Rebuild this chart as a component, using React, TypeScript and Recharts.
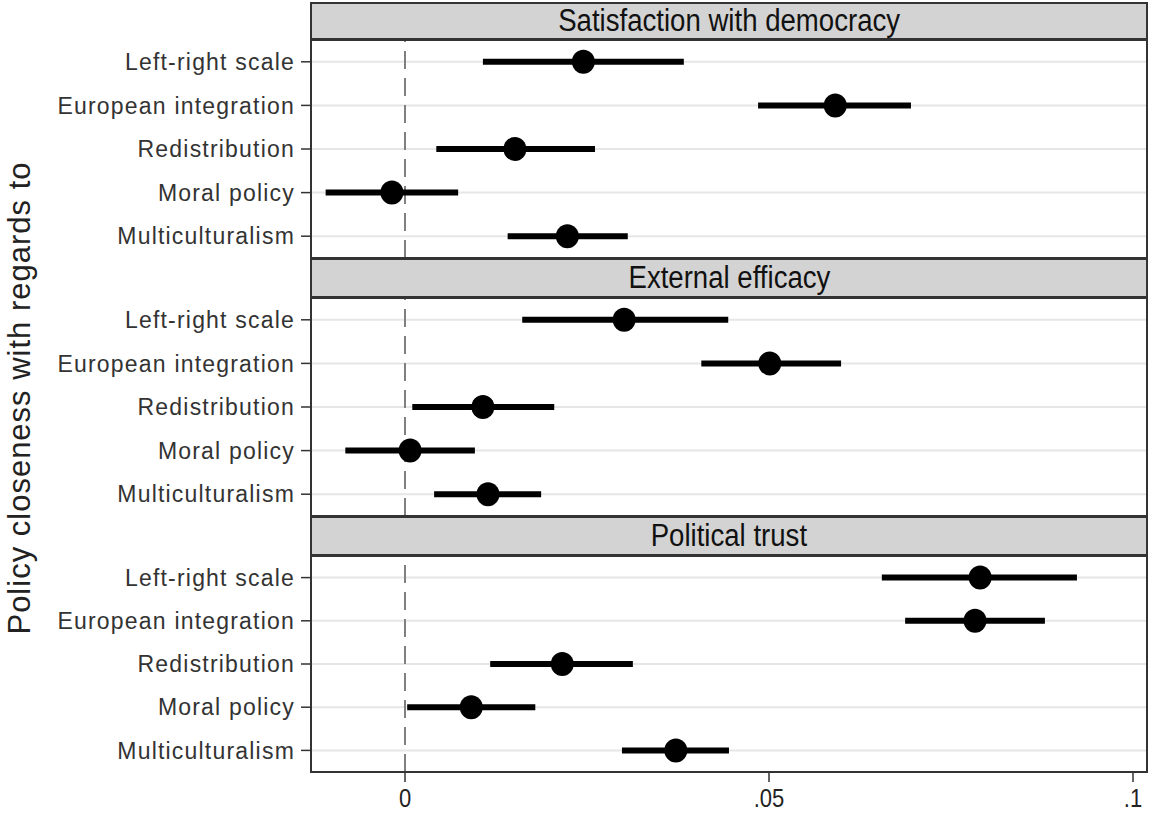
import React from 'react';
import { ScatterChart, Scatter, XAxis, YAxis, CartesianGrid, ErrorBar, ReferenceLine } from 'recharts';

const categories = ['Left-right scale', 'European integration', 'Redistribution', 'Moral policy', 'Multiculturalism'];
const panelTitles = ['Satisfaction with democracy', 'External efficacy', 'Political trust'];

const satEst = [0.0245, 0.0591, 0.0151, -0.0018, 0.0223];
const satLo = [0.0107, 0.0485, 0.0043, -0.0109, 0.0141];
const satHi = [0.0383, 0.0695, 0.0261, 0.0073, 0.0306];

const effEst = [0.0301, 0.0501, 0.0107, 0.0007, 0.0114];
const effLo = [0.0161, 0.0407, 0.001, -0.0082, 0.004];
const effHi = [0.0444, 0.0599, 0.0205, 0.0096, 0.0187];

const trustEst = [0.079, 0.0783, 0.0216, 0.0091, 0.0372];
const trustLo = [0.0655, 0.0687, 0.0117, 0.0003, 0.0298];
const trustHi = [0.0923, 0.0879, 0.0313, 0.0179, 0.0445];

const xTicks = [0, 0.05, 0.1];
const xTickLabels = ['0', '.05', '.1'];

const XMIN = -0.01305;
const XMAX = 0.10206;

const SANS = '"Liberation Sans", Arial, sans-serif';

function buildRows(est: number[], lo: number[], hi: number[]) {
  return categories.map((c, i) => ({ y: i, x: est[i], err: [est[i] - lo[i], hi[i] - est[i]] }));
}

const panels = [
  { title: panelTitles[0], rows: buildRows(satEst, satLo, satHi), headerTop: 2, plotTop: 40, plotBottom: 258 },
  { title: panelTitles[1], rows: buildRows(effEst, effLo, effHi), headerTop: 258, plotTop: 298, plotBottom: 516 },
  { title: panelTitles[2], rows: buildRows(trustEst, trustLo, trustHi), headerTop: 516, plotTop: 556, plotBottom: 772 },
];

const PLOT_LEFT = 310;
const PLOT_RIGHT = 1148;
const W = 1150;

const Dot = (p: any) => <ellipse cx={p.cx} cy={p.cy} rx={11.5} ry={12} fill="#000" />;

const XTick = (props: any) => {
  const { x, y, payload } = props;
  const label = xTickLabels[xTicks.indexOf(payload.value)] ?? String(payload.value);
  return (
    <g transform={`translate(${x},${y}) scale(0.88,1)`}>
      <text x={0} y={0} dy={20} textAnchor="middle" fontFamily={SANS} fontSize={25} fill="#222">
        {label}
      </text>
    </g>
  );
};

function Panel({ p, showX }: { p: any; showX: boolean }) {
  const plotH = p.plotBottom - p.plotTop;
  const axisH = showX ? 46 : 0;
  return (
    <>
      <div
        style={{
          position: 'absolute',
          left: PLOT_LEFT,
          top: p.headerTop,
          width: PLOT_RIGHT - PLOT_LEFT,
          height: p.plotTop - p.headerTop,
          boxSizing: 'border-box',
          background: '#d3d3d3',
          border: '2px solid #333',
          display: 'flex',
          alignItems: 'center',
          justifyContent: 'center',
          fontFamily: SANS,
          fontSize: 31,
          color: '#111',
        }}
      >
        <span style={{ display: 'inline-block', transform: 'scaleX(0.89)', whiteSpace: 'nowrap' }}>{p.title}</span>
      </div>
      <div style={{ position: 'absolute', left: 0, top: p.plotTop }}>
        <ScatterChart width={W} height={plotH + axisH} margin={{ top: 0, right: W - PLOT_RIGHT, bottom: 0, left: 0 }}>
          <CartesianGrid horizontal vertical={false} stroke="#e6e6e6" strokeWidth={2} />
          <XAxis
            type="number"
            dataKey="x"
            domain={[XMIN, XMAX]}
            allowDataOverflow
            ticks={xTicks}
            hide={!showX}
            height={axisH}
            axisLine={false}
            tickLine={{ stroke: '#333', strokeWidth: 1.5 }}
            tickSize={10}
            tickMargin={5}
            tick={<XTick />}
          />
          <YAxis
            type="number"
            dataKey="y"
            domain={[-0.5, 4.5]}
            reversed
            ticks={[0, 1, 2, 3, 4]}
            tickFormatter={(v: number) => categories[v]}
            width={PLOT_LEFT}
            axisLine={false}
            tickLine={{ stroke: '#333', strokeWidth: 1.5 }}
            tickSize={9}
            tickMargin={6}
            interval={0}
            tick={{ fontFamily: SANS, fontSize: 23, fill: '#333', letterSpacing: 1.2 }}
          />
          <ReferenceLine x={0} stroke="#808080" strokeWidth={2} strokeDasharray="18 9" />
          <Scatter data={p.rows} isAnimationActive={false} shape={Dot}>
            <ErrorBar dataKey="err" direction="x" width={0} strokeWidth={6} stroke="#000" />
          </Scatter>
        </ScatterChart>
      </div>
      <div
        style={{
          position: 'absolute',
          left: PLOT_LEFT,
          top: p.plotTop - 1,
          width: PLOT_RIGHT - PLOT_LEFT,
          height: plotH + 2,
          boxSizing: 'border-box',
          border: '2px solid #333',
          pointerEvents: 'none',
        }}
      />
    </>
  );
}

export default function App() {
  return (
    <div style={{ position: 'absolute', left: 0, top: 0, width: W, height: 820, background: '#fff', overflow: 'hidden' }}>
      {panels.map((p, i) => (
        <Panel key={i} p={p} showX={i === panels.length - 1} />
      ))}
      <div
        style={{
          position: 'absolute',
          left: 20,
          top: 398,
          transform: 'translate(-50%, -50%) rotate(-90deg)',
          whiteSpace: 'nowrap',
          fontFamily: SANS,
          fontSize: 31,
          letterSpacing: 1,
          color: '#222',
        }}
      >
        Policy closeness with regards to
      </div>
    </div>
  );
}
